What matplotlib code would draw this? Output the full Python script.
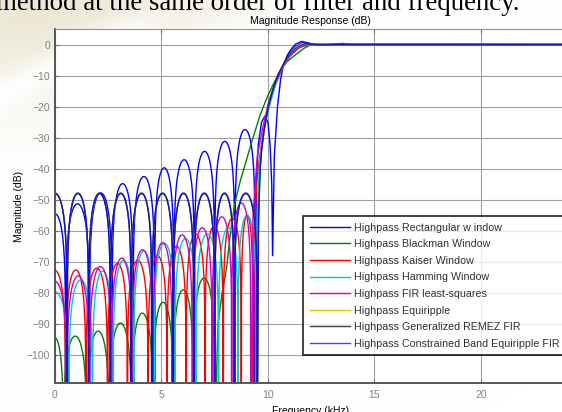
import numpy as np
import matplotlib
matplotlib.use("Agg")
import matplotlib.pyplot as plt

plt.rcParams["font.family"] = ["Liberation Sans", "DejaVu Sans"]

# ---- stopband lobes: null frequencies (kHz) and lobe peak levels (dB) ----
rect_nulls = [-0.5, 0.5, 1.62, 2.68, 3.67, 4.68, 5.58, 6.55, 7.5, 8.45, 9.4]
rect_peaks = [-54.5, -51.3, -47.8, -44.8, -42.5, -39.7, -37.1, -34.4, -31.2, -27.4]
rect_edge_f = [9.4, 9.45, 9.55, 9.7, 9.86, 10.0, 10.1, 10.18, 10.22, 10.3, 10.45, 10.6,
               10.72, 10.9, 11.1, 11.3, 11.58, 11.85, 12.2, 12.6, 13.0, 13.5, 14.0, 24.0]
rect_edge_db = [-130, -45, -32, -25, -23, -25, -32, -45, -68, -36, -20, -11,
                -7, -3.6, -1.4, 0.1, 1.0, 0.6, -0.05, -0.15, 0.05, 0.35, 0.05, 0]

black_nulls = [-0.4, 0.4, 1.5, 2.55, 3.6, 4.6, 5.55, 6.5, 7.5]
black_peaks = [-94.5, -93.9, -92.3, -89.7, -86.5, -83, -79, -75.2]
black_edge_f = [7.5, 7.65, 7.85, 8.06, 8.25, 8.45, 8.7, 9.0, 9.3, 9.62, 9.9, 10.2,
                10.56, 10.9, 11.35, 11.7, 11.97, 12.3, 24.0]
black_edge_db = [-130, -90, -80, -72, -60, -51, -44, -37, -30, -23, -18, -13.5,
                 -8.6, -5.5, -3.0, -1.2, -0.2, 0, 0]

kaiser_nulls = [-0.5, 0.5, 1.45, 2.47, 3.4, 4.37, 5.26, 6.16, 7.05, 7.9, 8.75, 9.3]
kaiser_peaks = [-72.8, -72.6, -72, -70.5, -69.5, -68, -65, -61, -58.5, -56, -55]
kaiser_edge_f = [9.3, 9.35, 9.5, 9.7, 10.0, 10.3, 10.72, 11.0, 11.4, 11.8, 12.1, 24.0]
kaiser_edge_db = [-130, -60, -42, -32, -21, -14, -6.8, -3.8, -1.2, -0.1, 0.05, 0]

hamm_nulls = [-0.65, 0.65, 1.76, 2.73, 3.7, 4.65, 5.63, 6.63, 7.68, 8.6, 9.45]
hamm_peaks = [-79.6, -75.8, -73, -69.5, -66.5, -64, -62.5, -61, -59, -55]
hamm_edge_f = [9.45, 9.5, 9.6, 9.8, 10.1, 10.4, 10.72, 11.0, 11.4, 11.8, 12.2, 24.0]
hamm_edge_db = [-130, -55, -38, -28, -19, -12, -7, -3.9, -1.3, -0.2, 0, 0]

ls_nulls = [-0.56, 0.56, 1.62, 2.65, 3.62, 4.6, 5.5, 6.45, 7.38, 8.3, 9.2]
ls_peaks = [-76.3, -74.5, -71.5, -68.8, -66.1, -63.8, -61.3, -59, -55.5, -51]
ls_edge_f = [9.2, 9.3, 9.5, 9.75, 10.05, 10.4, 10.72, 11.1, 11.5, 11.9, 24.0]
ls_edge_db = [-130, -55, -36, -27, -18, -11.5, -6.8, -3.2, -0.9, 0, 0]

eq_nulls = [-0.57, 0.57, 1.58, 2.6, 3.58, 4.55, 5.55, 6.52, 7.5, 8.42, 9.5]
eq_peaks = [-48, -48, -48, -48, -48, -48, -48, -48, -48, -48]
eq_edge_f = [9.5, 9.55, 9.62, 9.7, 9.9, 10.2, 10.45, 10.72, 11.0, 11.3, 11.6, 11.8,
             12.0, 12.5, 13.0, 24.0]
eq_edge_db = [-130, -60, -42, -34, -24, -15, -10, -6.5, -3.5, -1.3, -0.1, 0.25,
              0.1, -0.1, 0, 0]

cb_nulls = [-0.57, 0.57, 1.58, 2.6, 3.58, 4.55, 5.55, 6.52, 7.5, 8.42, 9.5]
cb_peaks = [-47.8, -47.8, -47.8, -47.8, -47.8, -47.8, -47.8, -47.8, -47.8, -47.8]
cb_edge_f = [9.5, 9.56, 9.65, 9.8, 10.05, 10.35, 10.72, 11.0, 11.3, 11.6, 11.9, 12.3, 24.0]
cb_edge_db = [-130, -55, -38, -28, -19, -12, -6.3, -2.8, -0.6, 0.6, 0.3, 0, 0]


def response(nulls, peaks, edge_f, edge_db, n=60):
    # each sidelobe is drawn as an arch between two nulls, topped at its peak level
    fs, dbs = [], []
    t = np.linspace(0, 1, n)
    s = np.maximum(np.abs(np.sin(np.pi * t)), 1e-7)
    for a, b, p in zip(nulls[:-1], nulls[1:], peaks):
        fs.append(a + (b - a) * t)
        dbs.append(p + 20 * np.log10(s))
    fs.append(np.array(edge_f))
    dbs.append(np.array(edge_db))
    return np.concatenate(fs), np.concatenate(dbs)


series = [
    ("Highpass Rectangular w indow", rect_nulls, rect_peaks, rect_edge_f, rect_edge_db, "#0000ff", 1.0),
    ("Highpass Blackman Window", black_nulls, black_peaks, black_edge_f, black_edge_db, "#008000", 1.0),
    ("Highpass Kaiser Window", kaiser_nulls, kaiser_peaks, kaiser_edge_f, kaiser_edge_db, "#ff0000", 1.0),
    ("Highpass Hamming Window", hamm_nulls, hamm_peaks, hamm_edge_f, hamm_edge_db, "#00cccc", 1.0),
    ("Highpass FIR least-squares", ls_nulls, ls_peaks, ls_edge_f, ls_edge_db, "#cc00cc", 1.0),
    ("Highpass Equiripple", eq_nulls, eq_peaks, eq_edge_f, eq_edge_db, "#cccc00", 1.0),
    ("Highpass Generalized REMEZ FIR", eq_nulls, eq_peaks, eq_edge_f, eq_edge_db, "#404040", 1.0),
    ("Highpass Constrained Band Equiripple FIR", cb_nulls, cb_peaks, cb_edge_f, cb_edge_db, "#0000ff", 0.75),
]

W, H = 562, 412
fig = plt.figure(figsize=(W / 100, H / 100), dpi=100)
fig.patch.set_facecolor("white")

# faint beige backdrop of the slide in the upper-left corner
bg = fig.add_axes([0, 0, 1, 1], zorder=-5)
yy, xx = np.mgrid[0:H, 0:W]
haze = np.exp(-(((xx - 20) / 120.0) ** 2 + ((yy - 10) / 90.0) ** 2))
haze += 0.6 * np.exp(-(((xx - 170) / 90.0) ** 2 + ((yy - 5) / 25.0) ** 2))
streak = np.exp(-(((xx * 0.55 + yy - 95) / 18.0) ** 2)) * np.exp(-((yy - 60) / 70.0) ** 2)
haze = np.clip(haze - 0.5 * streak, 0, 1)
img = np.ones((H, W, 3))
img[..., 0] -= 0.07 * haze
img[..., 1] -= 0.09 * haze
img[..., 2] -= 0.16 * haze
bg.imshow(img, extent=[0, W, H, 0], aspect="auto")
bg.set_axis_off()

fig.text(-0.008, 1 - 10 / H, "method at the same order of filter and frequency.",
         family="Liberation Serif", fontsize=19.4, color="black", ha="left", va="baseline")

ax = fig.add_axes([55 / W, (H - 383) / H, 511 / W, 354 / H])
for label, nl, pk, ef, ed, color, alpha in series:
    f, db = response(nl, pk, ef, ed)
    ax.plot(f, db, color=color, lw=1.0, alpha=alpha, label=label)

ax.set_xlim(0, 24)
ax.set_ylim(-109, 5)
ax.set_xticks([0, 5, 10, 15, 20])
ax.set_yticks([0, -10, -20, -30, -40, -50, -60, -70, -80, -90, -100])
ax.grid(True, color="#a0a0a0", lw=0.8)
ax.set_axisbelow(True)
ax.tick_params(direction="in", colors="#707070", labelsize=7.5, length=3,
               top=True, right=True, labelcolor="#808080")
ax.tick_params(axis="x", pad=5)
for side in ("left", "bottom"):
    ax.spines[side].set_color("#555555")
    ax.spines[side].set_linewidth(1.4)
for side in ("top", "right"):
    ax.spines[side].set_color("#909090")
    ax.spines[side].set_linewidth(0.8)

ax.set_title("Magnitude Response (dB)", fontsize=7.5, pad=3.5)
ax.set_xlabel("Frequency (kHz)", fontsize=7.5, labelpad=4.5)
ax.set_ylabel("Magnitude (dB)", fontsize=7.5, labelpad=2)

leg = ax.legend(loc="upper left", bbox_to_anchor=(303 / W, 1 - 216 / H),
                bbox_transform=fig.transFigure, fontsize=7.65, frameon=True,
                fancybox=False, handlelength=3.8, handletextpad=0.4,
                labelspacing=0.62, borderpad=0.62, borderaxespad=0)
leg.get_frame().set_edgecolor("black")
leg.get_frame().set_linewidth(1.3)
for t in leg.get_texts():
    t.set_color("#303030")

fig.savefig("out.png", dpi=100)
